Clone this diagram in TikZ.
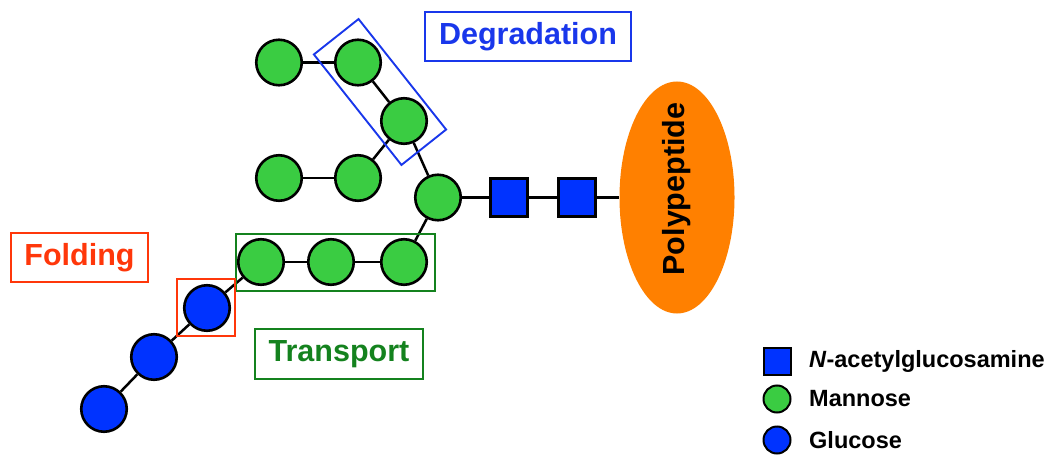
\documentclass[tikz,border=0pt]{standalone}
\usepackage{fontspec}
\setmainfont{Liberation Sans}
\usetikzlibrary{shapes.geometric}
\definecolor{mgreen}{RGB}{58,204,66}
\definecolor{gblue}{RGB}{0,51,255}
\definecolor{porange}{RGB}{255,128,0}
\definecolor{dblue}{RGB}{25,55,235}
\definecolor{tgreen}{RGB}{20,130,30}
\definecolor{fred}{RGB}{255,55,10}
\tikzset{
  man/.style={circle, draw=black, line width=2.6pt, fill=mgreen, minimum size=45.5pt, inner sep=0pt},
  glc/.style={circle, draw=black, line width=2.6pt, fill=gblue, minimum size=45.5pt, inner sep=0pt},
  nag/.style={rectangle, draw=black, line width=2.6pt, fill=gblue, minimum size=37.5pt, inner sep=0pt},
  link/.style={draw=black, line width=2.5pt},
  lbl/.style={draw, line width=1.9pt, font=\fontsize{30.5}{36}\selectfont\bfseries, inner sep=0pt},
  frame/.style={draw, line width=1.9pt, inner sep=0pt},
  legtxt/.style={anchor=west, inner sep=0pt, font=\fontsize{23.5}{28}\selectfont\bfseries},
}
\begin{document}
\begin{tikzpicture}[x=1pt,y=-1pt]
\useasboundingbox (0,0) rectangle (1051,457);
\node[man] (m1) at (279,62.5) {};
\node[man] (m2) at (358,62.5) {};
\node[man] (m3) at (404,121) {};
\node[man] (m4) at (279,178) {};
\node[man] (m5) at (358,178) {};
\node[man] (m6) at (438,197.5) {};
\node[man] (m7) at (261,262) {};
\node[man] (m8) at (331,262) {};
\node[man] (m9) at (404,262) {};
\node[glc] (g1) at (207,308) {};
\node[glc] (g2) at (154,357) {};
\node[glc] (g3) at (104,409) {};
\node[nag] (s1) at (509,197.5) {};
\node[nag] (s2) at (577,197.5) {};
\node[ellipse, fill=porange, minimum width=115pt, minimum height=232pt, inner sep=0pt] (poly) at (677,197.5) {};
\node[rotate=90, inner sep=0pt, font=\fontsize{30.5}{36}\selectfont\bfseries] (polytxt) at (677,189) {Polypeptide};
\draw[link] (m1) -- (m2);
\draw[link] (m2) -- (m3);
\draw[link] (m3) -- (m6);
\draw[link] (m4) -- (m5);
\draw[link] (m5) -- (m3);
\draw[link] (m6) -- (m9);
\draw[link] (m9) -- (m8);
\draw[link] (m8) -- (m7);
\draw[link] (m7) -- (g1);
\draw[link] (g1) -- (g2);
\draw[link] (g2) -- (g3);
\draw[link] (m6) -- (s1);
\draw[link] (s1) -- (s2);
\draw[link] (s2) -- (poly);
% frames
\node[frame, draw=dblue, rotate=-51.6, minimum width=141pt, minimum height=57pt] (degframe) at (380,92) {};
\node[frame, draw=tgreen, minimum width=199pt, minimum height=57pt] (trframe) at (335.5,262.5) {};
\node[frame, draw=fred, minimum width=58pt, minimum height=57pt] (foframe) at (206,307.5) {};
% labels
\node[lbl, draw=dblue, text=dblue, minimum width=206pt, minimum height=49pt] (deg) at (528,36.5) {Degradation};
\node[lbl, draw=fred, text=fred, minimum width=137pt, minimum height=49pt] (fold) at (79.5,257.5) {Folding};
\node[lbl, draw=tgreen, text=tgreen, minimum width=168pt, minimum height=50pt] (trans) at (339,354) {Transport};
% legend
\node[nag, minimum size=27pt, line width=2pt] (lnag) at (777,361) {};
\node[man, minimum size=27pt, line width=2pt] (lman) at (777,399) {};
\node[glc, minimum size=27pt, line width=2pt] (lglc) at (777,440) {};
\node[legtxt] (tnag) at (809,361) {\textit{N}-acetylglucosamine};
\node[legtxt] (tman) at (809,399) {Mannose};
\node[legtxt] (tglc) at (809,440) {Glucose};
\end{tikzpicture}
\end{document}
